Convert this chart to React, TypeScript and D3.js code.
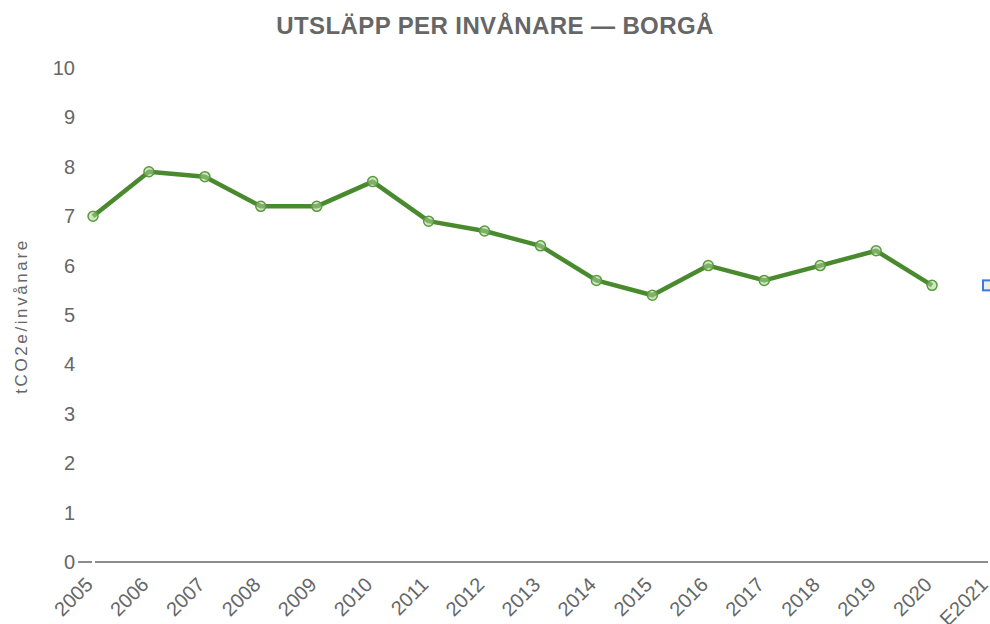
import React from "react";
import * as d3 from "d3";

const years = ["2005","2006","2007","2008","2009","2010","2011","2012","2013","2014","2015","2016","2017","2018","2019","2020","E2021"];
const emissions = [7.0, 7.9, 7.8, 7.2, 7.2, 7.7, 6.9, 6.7, 6.4, 5.7, 5.4, 6.0, 5.7, 6.0, 6.3, 5.6];
const estimate = [{ year: "E2021", value: 5.6 }];
const yTicks = [0, 1, 2, 3, 4, 5, 6, 7, 8, 9, 10];
const title = "UTSLÄPP PER INVÅNARE — BORGÅ";
const yLabel = "tCO2e/invånare";

export default function App() {
  const W = 990, H = 624;
  const x = d3.scalePoint<string>().domain(years).range([93, 988]);
  const y = d3.scaleLinear().domain([0, 10]).range([562, 68]);
  const pts = emissions.map((v, i) => ({ year: years[i], value: v }));
  const line = d3.line<{ year: string; value: number }>()
    .x(d => x(d.year)!)
    .y(d => y(d.value));
  const font = "'Liberation Sans', Arial, sans-serif";
  const grey = "#666";
  return (
    <svg width={W} height={H} style={{ position: "absolute", left: 0, top: 0, background: "#fff" }} fontFamily={font}>
      <text x={495} y={34} textAnchor="middle" fontSize={24} letterSpacing={0.4} fontWeight="bold" fill={grey}>{title}</text>
      <text transform={`translate(27,316) rotate(-90)`} textAnchor="middle" fontSize={17} letterSpacing={2.6} fill={grey}>{yLabel}</text>
      {yTicks.map(t => (
        <text key={t} x={75} y={y(t)} dy="0.35em" textAnchor="end" fontSize={20} fill={grey}>{t}</text>
      ))}
      <line x1={78} x2={92} y1={y(0)} y2={y(0)} stroke={grey} strokeWidth={1.5} />
      <line x1={95} x2={988} y1={y(0)} y2={y(0)} stroke={grey} strokeWidth={1.5} />
      {years.map(yr => (
        <text key={yr} transform={`translate(${x(yr)! + 1},586) rotate(-45)`} textAnchor="end" fontSize={20} fill={grey}>{yr}</text>
      ))}
      <path d={line(pts)!} fill="none" stroke="#4a8a2e" strokeWidth={4.5} strokeLinejoin="round" />
      {pts.map(p => (
        <circle key={p.year} cx={x(p.year)} cy={y(p.value)} r={5} fill="rgba(170,210,150,0.55)" stroke="#5a9a3e" strokeWidth={1.5} />
      ))}
      {estimate.map(p => (
        <rect key={p.year} x={x(p.year)! - 5} y={y(p.value) - 5} width={10} height={10} fill="#eee" stroke="#3a7be0" strokeWidth={2} />
      ))}
    </svg>
  );
}
